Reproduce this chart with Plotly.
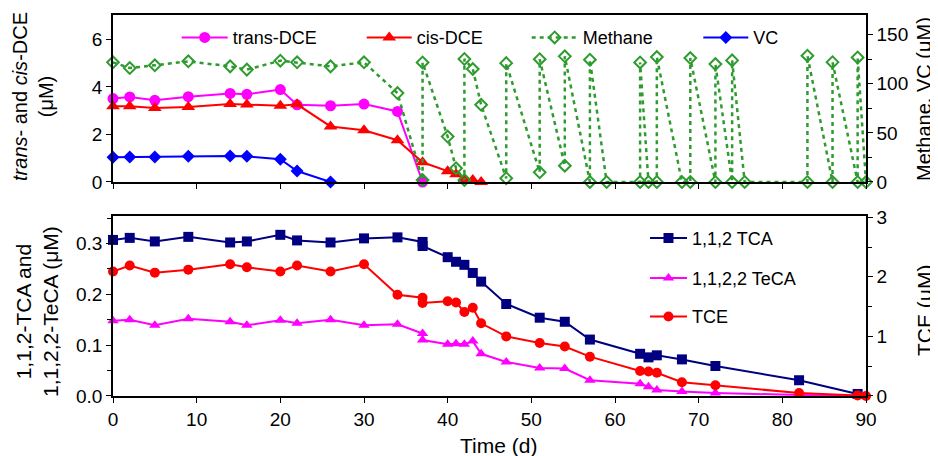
import plotly.graph_objects as go
from plotly.subplots import make_subplots

# ---------------- data ----------------
t_trans = [0, 2, 5, 9, 14, 16, 20, 22, 26, 30, 34, 37]
trans_dce = [3.51, 3.58, 3.44, 3.59, 3.73, 3.69, 3.89, 3.25, 3.21, 3.28, 2.97, 0.0]

t_cis = [0, 2, 5, 9, 14, 16, 20, 22, 26, 30, 34, 37, 40, 41, 42, 43, 44]
cis_dce = [3.19, 3.19, 3.12, 3.16, 3.28, 3.26, 3.21, 3.27, 2.34, 2.18, 1.76, 0.83,
           0.45, 0.33, 0.12, 0.08, 0.0]

t_methane = [0, 2, 5, 9, 14, 16, 20, 22, 26, 30, 34, 37, 37, 40, 41, 42, 42, 43, 44,
             47, 47, 51, 51, 54, 54, 57, 57, 59, 63, 63, 64, 65, 65, 68, 69, 69, 72, 72,
             74, 74, 75.5, 83, 83, 86, 86, 89, 89, 90]
methane = [121.8, 116, 118.8, 122.8, 117.7, 114.4, 123.5, 121.8, 117.7, 121.8, 90.5,
           2, 121.7, 46.2, 14, 2, 125.2, 115, 78.6, 3.8, 121, 9.9, 125, 16.6, 127.9,
           0, 124.5, 0, 0, 121.7, 0, 0, 127.2, 0, 0, 126.2, 0, 120, 0, 123.8, 0,
           0, 128.6, 0, 122, 0, 126.8, 0]

t_vc = [0, 2, 5, 9, 14, 16, 20, 22, 26]
vc = [25.1, 25.4, 25.4, 26.1, 26.5, 26.1, 23.1, 11.2, 0]

t_ca = [0, 2, 5, 9, 14, 16, 20, 22, 26, 30, 34, 37, 37, 40, 41, 42, 43, 44, 47, 51,
        54, 57, 63, 64, 65, 68, 72, 82, 89]
tca = [0.307, 0.311, 0.304, 0.313, 0.302, 0.304, 0.317, 0.306, 0.302, 0.310,
       0.312, 0.303, 0.295, 0.273, 0.264, 0.258, 0.242, 0.225, 0.181, 0.154,
       0.146, 0.111, 0.083, 0.076, 0.080, 0.072, 0.059, 0.031, 0.004]
teca = [0.148, 0.150, 0.139, 0.152, 0.146, 0.139, 0.149, 0.143, 0.150, 0.139,
        0.141, 0.123, 0.110, 0.102, 0.103, 0.102, 0.108, 0.083, 0.067, 0.055,
        0.054, 0.031, 0.024, 0.018, 0.012, 0.009, 0.006, 0.002, 0.0]

t_tce = [0, 2, 5, 9, 14, 16, 20, 22, 26, 30, 34, 37, 37, 40, 41, 42, 43, 44, 47, 51,
         54, 57, 63, 64, 65, 68, 72, 82, 89, 90]
tce = [2.09, 2.19, 2.07, 2.12, 2.21, 2.16, 2.09, 2.19, 2.09, 2.21,
       1.70, 1.65, 1.56, 1.59, 1.57, 1.41, 1.48, 1.22, 1.00, 0.89,
       0.83, 0.66, 0.42, 0.41, 0.39, 0.23, 0.18, 0.05, 0.01, 0.0]

x_ticks = [0, 10, 20, 30, 40, 50, 60, 70, 80, 90]

# ---------------- figure ----------------
FONT = "Liberation Sans, Arial, Helvetica, sans-serif"
MAGENTA = "#FF00FF"
RED = "#FF0000"
GREEN = "#2E9B2E"
BLUE = "#0000FF"
NAVY = "#000080"

fig = make_subplots(rows=2, cols=1,
                    specs=[[{"secondary_y": True}], [{"secondary_y": True}]])

fig.add_trace(go.Scatter(x=t_trans, y=trans_dce, name="trans-DCE", mode="lines+markers",
                         line=dict(color=MAGENTA, width=2),
                         marker=dict(symbol="circle", size=11, color=MAGENTA),
                         cliponaxis=False, legend="legend", showlegend=True),
              row=1, col=1, secondary_y=False)
fig.add_trace(go.Scatter(x=t_cis, y=cis_dce, name="cis-DCE", mode="lines+markers",
                         line=dict(color=RED, width=2),
                         marker=dict(symbol="triangle-up", size=12, color=RED),
                         cliponaxis=False, legend="legend2", showlegend=True),
              row=1, col=1, secondary_y=False)
fig.add_trace(go.Scatter(x=t_methane, y=methane, name="Methane", mode="lines+markers",
                         line=dict(color=GREEN, width=2.5, dash="4px,4px"),
                         marker=dict(symbol="diamond-open", size=9, color=GREEN,
                                     line=dict(width=2, color=GREEN)),
                         cliponaxis=False, legend="legend3", showlegend=True),
              row=1, col=1, secondary_y=True)
fig.add_trace(go.Scatter(x=t_vc, y=vc, name="VC", mode="lines+markers",
                         line=dict(color=BLUE, width=2),
                         marker=dict(symbol="diamond", size=10, color=BLUE),
                         cliponaxis=False, legend="legend4", showlegend=True),
              row=1, col=1, secondary_y=True)

fig.add_trace(go.Scatter(x=t_ca, y=tca, name="1,1,2 TCA", mode="lines+markers",
                         line=dict(color=NAVY, width=2),
                         marker=dict(symbol="square", size=10, color=NAVY),
                         cliponaxis=False, legend="legend5", showlegend=True),
              row=2, col=1, secondary_y=False)
fig.add_trace(go.Scatter(x=t_ca, y=teca, name="1,1,2,2 TeCA", mode="lines+markers",
                         line=dict(color=MAGENTA, width=2),
                         marker=dict(symbol="triangle-up", size=10, color=MAGENTA),
                         cliponaxis=False, legend="legend6", showlegend=True),
              row=2, col=1, secondary_y=False)
fig.add_trace(go.Scatter(x=t_tce, y=tce, name="TCE", mode="lines+markers",
                         line=dict(color=RED, width=2),
                         marker=dict(symbol="circle", size=10, color=RED),
                         cliponaxis=False, legend="legend7", showlegend=True),
              row=2, col=1, secondary_y=True)

axis_common = dict(showline=True, linecolor="black", linewidth=1.5, ticks="outside",
                   ticklen=5, tickwidth=1.2, tickcolor="black", showgrid=False,
                   zeroline=False, automargin=False,
                   tickfont=dict(size=19, color="black", family=FONT))

TOP = [0.5617, 1.0]
BOT = [0.0, 0.4724]

# The page puts the figure 8 px in from the top-left corner, so the figure is
# 8 px smaller than the window and its margins are shifted accordingly.
fig.update_layout(
    width=930, height=448,
    showlegend=True,
    margin=dict(l=105, r=72, t=7, b=60, autoexpand=False),
    paper_bgcolor="white", plot_bgcolor="white",
    font=dict(family=FONT, color="black", size=18),
    xaxis=dict(domain=[0, 1], range=[0, 90], tickvals=x_ticks, showticklabels=False,
               mirror=True, anchor="y", **axis_common),
    xaxis2=dict(domain=[0, 1], range=[0, 90], tickvals=x_ticks, mirror=True, anchor="y3",
                **axis_common),
    yaxis=dict(domain=TOP, range=[0, 7.03], tickvals=[0, 2, 4, 6], anchor="x",
               **axis_common),
    yaxis2=dict(domain=TOP, range=[0, 170], tickvals=[0, 50, 100, 150], side="right",
                overlaying="y", anchor="x",
                minor=dict(dtick=25, ticks="outside", ticklen=4, tickcolor="black"),
                **axis_common),
    yaxis3=dict(domain=BOT, range=[0, 0.354], tickvals=[0, 0.1, 0.2, 0.3],
                tickformat=".1f", anchor="x2",
                minor=dict(dtick=0.05, ticks="outside", ticklen=4, tickcolor="black"),
                **axis_common),
    yaxis4=dict(domain=BOT, range=[0, 3.02], tickvals=[0, 1, 2, 3], side="right",
                overlaying="y3", anchor="x2",
                minor=dict(dtick=0.5, ticks="outside", ticklen=4, tickcolor="black"),
                **axis_common),
)

titles = [
    dict(text="<i>trans</i>- and <i>cis</i>-DCE<br>(μM)", x=-0.1062, y=0.785,
         textangle=-90, size=20),
    dict(text="1,1,2-TCA and<br>1,1,2,2-TeCA (μM)", x=-0.1009, y=0.2205,
         textangle=-90, size=21),
    dict(text="Methane, VC (μM)", x=1.0770, y=0.7795, textangle=-90, size=20),
    dict(text="TCE (μM)", x=1.0770, y=0.2257, textangle=-90, size=21),
    dict(text="Time (d)", x=0.5113, y=-0.1312, textangle=0, size=21),
]
for t in titles:
    size = t.pop("size")
    fig.add_annotation(xref="paper", yref="paper", showarrow=False,
                       xanchor="center", yanchor="middle",
                       font=dict(size=size, family=FONT, color="black"), **t)

leg_common = dict(bgcolor="rgba(0,0,0,0)", borderwidth=0, xanchor="left",
                  yanchor="middle", font=dict(size=18, family=FONT, color="black"))
fig.update_layout(
    legend=dict(x=0.0846, y=0.9404, itemwidth=46, **leg_common),
    legend2=dict(x=0.3303, y=0.9404, itemwidth=45, **leg_common),
    legend3=dict(x=0.5494, y=0.9404, itemwidth=46, **leg_common),
    legend4=dict(x=0.7773, y=0.9404, itemwidth=45, **leg_common),
    legend5=dict(x=0.7065, y=0.4139, itemwidth=37, **leg_common),
    legend6=dict(x=0.7065, y=0.3089, itemwidth=37, **leg_common),
    legend7=dict(x=0.7065, y=0.2081, itemwidth=37, **leg_common),
)

fig.write_html("out.html")
